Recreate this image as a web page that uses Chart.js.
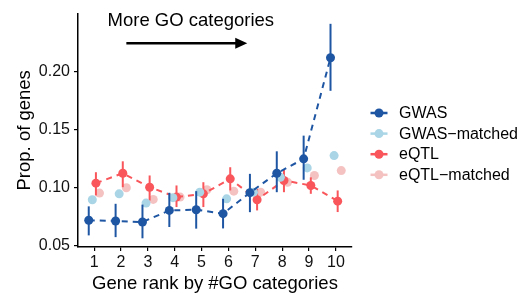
<!DOCTYPE html>
<html>
<head>
<meta charset="utf-8">
<script src="https://cdn.jsdelivr.net/npm/chart.js@4"></script>
<style>
  html, body { margin: 0; padding: 0; background: #fff; }
  #wrap { width: 524px; height: 293px; position: relative; }
</style>
</head>
<body>
<div id="wrap"><canvas id="chart"></canvas></div>
<script>
const ranks = [1, 2, 3, 4, 5, 6, 7, 8, 9, 10]
const seriesNames = ['GWAS', 'GWAS\u2212matched', 'eQTL', 'eQTL\u2212matched']

const gwas = [0.072, 0.0714, 0.0705, 0.0805, 0.0811, 0.0777, 0.0958, 0.1125, 0.1249, 0.212]
const gwasLo = [0.059, 0.0575, 0.0565, 0.0662, 0.0648, 0.065, 0.079, 0.0962, 0.1069, 0.1835]
const gwasHi = [0.084, 0.0862, 0.0855, 0.0957, 0.0971, 0.0905, 0.112, 0.1314, 0.1449, 0.2412]

const gwasMatched = [0.0897, 0.0948, 0.0868, 0.0915, 0.0962, 0.0905, 0.0962, 0.109, 0.1171, 0.1277]
const eqtl = [0.104, 0.1125, 0.1005, 0.092, 0.0948, 0.1077, 0.0897, 0.1063, 0.102, 0.0885]
const eqtlLo = [0.0934, 0.1005, 0.089, 0.0834, 0.0834, 0.0977, 0.0805, 0.0962, 0.0948, 0.0791]
const eqtlHi = [0.1134, 0.1228, 0.1106, 0.102, 0.1048, 0.1177, 0.0991, 0.1154, 0.109, 0.0977]
const eqtlMatched = [0.0954, 0.100, 0.090, 0.092, 0.0983, 0.0971, 0.0962, 0.1048, 0.1106, 0.1148]
const matchedErr = 0.003

const yTicks = [0.05, 0.10, 0.15, 0.20]

const colors = ['#1f56a3', '#a9d5e6', '#f9565b', '#f5c2c2']
const dodge = [-0.2, -0.067, 0.067, 0.2]
const FONT = "'Liberation Sans', Arial, Helvetica, sans-serif"

function points(vals, k) {
    return vals.map((v, i) => ({ x: ranks[i] + dodge[k], y: v }))
}

const errors = [
    { lo: gwasLo, hi: gwasHi },
    { lo: gwasMatched.map(v => v - matchedErr), hi: gwasMatched.map(v => v + matchedErr) },
    { lo: eqtlLo, hi: eqtlHi },
    { lo: eqtlMatched.map(v => v - matchedErr), hi: eqtlMatched.map(v => v + matchedErr) }
]

const values = [gwas, gwasMatched, eqtl, eqtlMatched]

const datasets = values.map((vals, k) => ({
    label: seriesNames[k],
    data: points(vals, k),
    showLine: k == 0 || k == 2,
    borderColor: colors[k],
    backgroundColor: colors[k],
    borderWidth: 2,
    borderDash: [6, 5],
    pointRadius: 4.5,
    pointHoverRadius: 4.5,
    pointBorderWidth: 0,
    order: k
}))

// error bars drawn right after each dataset
const errorBars = {
    id: 'errorBars',
    afterDatasetDraw(chart, args) {
        const k = args.index
        const ctx = chart.ctx
        const xs = chart.scales.x, ys = chart.scales.y
        ctx.save()
        ctx.strokeStyle = colors[k]
        ctx.lineWidth = 2
        for (let i = 0; i < ranks.length; i++) {
            const px = xs.getPixelForValue(ranks[i] + dodge[k])
            ctx.beginPath()
            ctx.moveTo(px, ys.getPixelForValue(errors[k].lo[i]))
            ctx.lineTo(px, ys.getPixelForValue(errors[k].hi[i]))
            ctx.stroke()
        }
        ctx.restore()
    }
}

// annotation arrow + legend
const extras = {
    id: 'extras',
    afterDraw(chart) {
        const ctx = chart.ctx
        const xs = chart.scales.x, ys = chart.scales.y
        ctx.save()
        ctx.fillStyle = '#000'
        ctx.font = '18.5px ' + FONT
        ctx.textAlign = 'center'
        ctx.textBaseline = 'middle'
        ctx.fillText('More GO categories', xs.getPixelForValue(4.6), ys.getPixelForValue(0.2435))

        const ay = ys.getPixelForValue(0.2245)
        const ax1 = xs.getPixelForValue(2.2), ax2 = xs.getPixelForValue(6.7)
        ctx.strokeStyle = '#000'
        ctx.lineWidth = 2.5
        ctx.beginPath()
        ctx.moveTo(ax1, ay)
        ctx.lineTo(ax2 - 8, ay)
        ctx.stroke()
        ctx.beginPath()
        ctx.moveTo(ax2, ay)
        ctx.lineTo(ax2 - 12, ay - 5.5)
        ctx.lineTo(ax2 - 12, ay + 5.5)
        ctx.closePath()
        ctx.fill()

        // legend
        ctx.font = '16px ' + FONT
        ctx.textAlign = 'left'
        for (let k = 0; k < seriesNames.length; k++) {
            const ly = 113 + k * 20.6
            ctx.strokeStyle = colors[k]
            ctx.fillStyle = colors[k]
            ctx.lineWidth = 2.5
            ctx.beginPath()
            ctx.moveTo(370.5, ly)
            ctx.lineTo(387.5, ly)
            ctx.stroke()
            ctx.beginPath()
            ctx.arc(379, ly, 4.5, 0, Math.PI * 2)
            ctx.fill()
            ctx.fillStyle = '#000'
            ctx.fillText(seriesNames[k], 399, ly + 0.5)
        }
        ctx.restore()
    }
}

new Chart(document.getElementById('chart'), {
    type: 'scatter',
    data: { datasets: datasets },
    options: {
        responsive: true,
        maintainAspectRatio: false,
        animation: false,
        layout: { padding: { left: 0, top: 12, right: 172, bottom: 0 } },
        plugins: { legend: { display: false }, tooltip: { enabled: false } },
        scales: {
            x: {
                type: 'linear',
                min: 0.4,
                max: 10.6,
                afterFit(scale) { scale.height = 46 },
                afterBuildTicks(scale) { scale.ticks = ranks.map(v => ({ value: v })) },
                grid: { display: true, drawOnChartArea: false, drawTicks: true, tickLength: 4, color: '#000', lineWidth: 1.2 },
                border: { display: true, color: '#000', width: 1.5 },
                ticks: { color: '#111', font: { family: FONT, size: 16 }, padding: 2 },
                title: { display: true, text: 'Gene rank by #GO categories', color: '#000', font: { family: FONT, size: 18.5, lineHeight: 1 }, padding: { top: 0, bottom: 0 } }
            },
            y: {
                min: 0.049,
                max: 0.25,
                afterFit(scale) { scale.width = 78 },
                afterBuildTicks(scale) { scale.ticks = yTicks.map(v => ({ value: v })) },
                grid: { display: true, drawOnChartArea: false, drawTicks: true, tickLength: 4, color: '#000', lineWidth: 1.2 },
                border: { display: true, color: '#000', width: 1.5 },
                ticks: { color: '#111', font: { family: FONT, size: 16 }, padding: 4, callback: v => v.toFixed(2) },
                title: { display: true, text: 'Prop. of genes', color: '#000', font: { family: FONT, size: 18.5 }, padding: { top: 14, bottom: 0 } }
            }
        }
    },
    plugins: [errorBars, extras]
})
</script>
</body>
</html>
